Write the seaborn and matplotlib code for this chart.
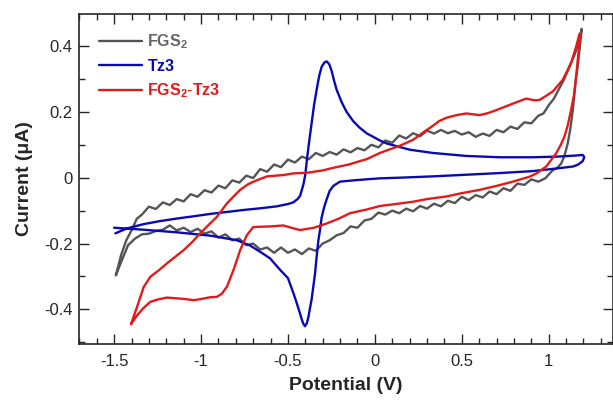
import matplotlib
matplotlib.use("Agg")
import matplotlib.pyplot as plt
from matplotlib.ticker import MultipleLocator
import seaborn as sns

# FGS2: anodic sweep (left end -> top right), then back along the cathodic branch
fgs_v = [-1.49, -1.46, -1.43, -1.40, -1.37, -1.34, -1.30, -1.26, -1.22, -1.18, -1.14, -1.10,
         -1.06, -1.02, -0.98, -0.94, -0.90, -0.86, -0.82, -0.78, -0.74, -0.70, -0.66, -0.62,
         -0.58, -0.54, -0.50, -0.46, -0.42, -0.38, -0.34, -0.30, -0.26, -0.22, -0.18, -0.14,
         -0.10, -0.06, -0.02, 0.02, 0.06, 0.10, 0.14, 0.18, 0.22, 0.26, 0.30, 0.34,
         0.38, 0.42, 0.46, 0.50, 0.54, 0.58, 0.62, 0.66, 0.70, 0.74, 0.78, 0.82,
         0.86, 0.90, 0.94, 0.97, 1.00, 1.03, 1.06, 1.09, 1.12, 1.15, 1.17, 1.19,
         1.188, 1.177, 1.165, 1.158, 1.145, 1.139, 1.125, 1.11, 1.09, 1.072, 1.05, 1.024,
         0.98, 0.94, 0.90, 0.86, 0.82, 0.78, 0.74, 0.70, 0.66, 0.62, 0.58, 0.54,
         0.50, 0.46, 0.42, 0.38, 0.34, 0.30, 0.26, 0.22, 0.18, 0.14, 0.10, 0.06,
         0.02, -0.02, -0.06, -0.10, -0.14, -0.18, -0.22, -0.26, -0.30, -0.34, -0.38, -0.42,
         -0.46, -0.50, -0.54, -0.58, -0.62, -0.66, -0.70, -0.74, -0.78, -0.82, -0.86, -0.90,
         -0.94, -0.98, -1.02, -1.06, -1.10, -1.14, -1.18, -1.22, -1.26, -1.30, -1.34, -1.38,
         -1.42, -1.455, -1.49]
fgs_i = [-0.296, -0.235, -0.19, -0.16, -0.125, -0.112, -0.088, -0.095, -0.075, -0.083, -0.065, -0.072,
         -0.05, -0.058, -0.038, -0.045, -0.024, -0.032, -0.008, -0.015, 0.006, -0.001, 0.026, 0.018,
         0.04, 0.032, 0.055, 0.046, 0.064, 0.056, 0.075, 0.066, 0.078, 0.07, 0.086, 0.077,
         0.09, 0.083, 0.1, 0.092, 0.113, 0.106, 0.128, 0.119, 0.135, 0.126, 0.143, 0.134,
         0.145, 0.135, 0.142, 0.131, 0.138, 0.124, 0.134, 0.127, 0.145, 0.138, 0.155, 0.148,
         0.168, 0.165, 0.188, 0.195, 0.22, 0.24, 0.27, 0.3, 0.338, 0.375, 0.405, 0.452,
         0.44, 0.388, 0.33, 0.307, 0.24, 0.206, 0.15, 0.105, 0.065, 0.043, 0.03, 0.023,
         -0.002, -0.012, -0.005, -0.022, -0.018, -0.04, -0.032, -0.05, -0.042, -0.06, -0.053, -0.068,
         -0.058, -0.077, -0.07, -0.087, -0.079, -0.094, -0.086, -0.102, -0.094, -0.108, -0.1, -0.112,
         -0.106, -0.125, -0.13, -0.152, -0.148, -0.168, -0.175, -0.19, -0.2, -0.222, -0.215, -0.232,
         -0.218, -0.228, -0.212, -0.228, -0.212, -0.218, -0.2, -0.205, -0.185, -0.19, -0.172, -0.182,
         -0.163, -0.17, -0.155, -0.165, -0.152, -0.16, -0.145, -0.158, -0.162, -0.17, -0.172, -0.185,
         -0.205, -0.25, -0.296]

# Tz3: anodic branch from -1.5 V, anodic peak, tail to 1.2 V, back, cathodic peak, tail to -1.5 V
tz_v = [-1.493, -1.426, -1.33, -1.238, -1.138, -1.04, -0.947, -0.85, -0.755, -0.66, -0.564, -0.50,
        -0.469, -0.445, -0.43, -0.411, -0.40, -0.392, -0.378, -0.364, -0.35, -0.335, -0.32, -0.306,
        -0.29, -0.277, -0.263, -0.249, -0.235, -0.22, -0.19, -0.163, -0.125, -0.088, -0.048, 0.029,
        0.067, 0.2, 0.335, 0.526, 0.718, 0.909, 1.05, 1.15, 1.196, 1.205, 1.195, 1.17,
        1.14, 1.062, 0.909, 0.718, 0.526, 0.335, 0.144, 0.029, -0.048, -0.12, -0.201, -0.239,
        -0.26, -0.277, -0.292, -0.306, -0.316, -0.325, -0.335, -0.344, -0.354, -0.364, -0.373, -0.383,
        -0.392, -0.402, -0.412, -0.421, -0.431, -0.45, -0.469, -0.5, -0.545, -0.603, -0.66, -0.718,
        -0.794, -0.947, -1.138, -1.33, -1.50]
tz_i = [-0.169, -0.154, -0.141, -0.132, -0.124, -0.117, -0.11, -0.104, -0.098, -0.093, -0.087, -0.08,
        -0.075, -0.065, -0.055, -0.02, 0.01, 0.05, 0.11, 0.165, 0.22, 0.267, 0.31, 0.337,
        0.35, 0.353, 0.345, 0.325, 0.295, 0.267, 0.228, 0.2, 0.172, 0.152, 0.135, 0.113,
        0.104, 0.085, 0.075, 0.066, 0.062, 0.062, 0.064, 0.067, 0.069, 0.062, 0.05, 0.04,
        0.034, 0.029, 0.02, 0.014, 0.009, 0.004, 0.0, -0.002, -0.005, -0.008, -0.012, -0.025,
        -0.04, -0.065, -0.09, -0.12, -0.16, -0.19, -0.24, -0.29, -0.33, -0.37, -0.395, -0.425,
        -0.443, -0.451, -0.443, -0.43, -0.412, -0.38, -0.35, -0.305, -0.28, -0.245, -0.225, -0.206,
        -0.19, -0.176, -0.166, -0.158, -0.152]

# FGS2-Tz3: anodic sweep from the lower-left end to the top, then the return branch
mix_v = [-1.403, -1.368, -1.33, -1.292, -1.24, -1.196, -1.1, -1.05, -1.005, -0.95, -0.909, -0.851,
         -0.80, -0.775, -0.73, -0.698, -0.66, -0.62, -0.526, -0.47, -0.39, -0.3, -0.239, -0.15,
         -0.088, -0.048, 0.029, 0.08, 0.144, 0.22, 0.28, 0.335, 0.37, 0.412, 0.47, 0.526,
         0.603, 0.65, 0.698, 0.794, 0.87, 0.92, 0.947, 0.99, 1.024, 1.081, 1.129, 1.158,
         1.173, 1.18, 1.175, 1.171, 1.158, 1.145, 1.129, 1.11, 1.091, 1.07, 1.043, 0.986,
         0.93, 0.89, 0.794, 0.7, 0.603, 0.5, 0.412, 0.3, 0.22, 0.12, 0.029, -0.05,
         -0.144, -0.21, -0.277, -0.35, -0.431, -0.48, -0.526, -0.6, -0.66, -0.70, -0.737, -0.775,
         -0.813, -0.851, -0.88, -0.909, -0.947, -1.005, -1.043, -1.1, -1.196, -1.25, -1.292, -1.33,
         -1.368, -1.403]
mix_i = [-0.445, -0.392, -0.332, -0.301, -0.28, -0.26, -0.22, -0.195, -0.169, -0.14, -0.119, -0.078,
         -0.05, -0.037, -0.02, -0.012, -0.004, 0.004, 0.008, 0.013, 0.015, 0.022, 0.03, 0.04,
         0.05, 0.056, 0.075, 0.085, 0.097, 0.115, 0.138, 0.158, 0.172, 0.182, 0.19, 0.195,
         0.19, 0.196, 0.205, 0.225, 0.24, 0.235, 0.236, 0.25, 0.262, 0.297, 0.348, 0.398,
         0.428, 0.438, 0.4, 0.378, 0.307, 0.25, 0.206, 0.16, 0.125, 0.1, 0.074, 0.034,
         0.013, 0.003, -0.012, -0.025, -0.037, -0.047, -0.057, -0.065, -0.073, -0.08, -0.086, -0.097,
         -0.108, -0.125, -0.139, -0.152, -0.159, -0.152, -0.145, -0.148, -0.149, -0.15, -0.175, -0.22,
         -0.28, -0.331, -0.352, -0.362, -0.363, -0.369, -0.372, -0.368, -0.364, -0.37, -0.377, -0.395,
         -0.418, -0.445]

sns.set_style("ticks")
plt.rcParams['font.family'] = ['Liberation Sans', 'DejaVu Sans']
plt.rcParams['mathtext.fontset'] = 'custom'
plt.rcParams['mathtext.bf'] = 'Liberation Sans:bold'
plt.rcParams['mathtext.rm'] = 'Liberation Sans'

fig = plt.figure(figsize=(6.13, 4.0), dpi=100)
ax = fig.add_axes([0.1295, 0.14, 0.8705, 0.825])

sns.lineplot(x=fgs_v, y=fgs_i, sort=False, estimator=None, color='#555555', lw=1.7, ax=ax,
             label=r'$\mathbf{FGS_2}$')
sns.lineplot(x=tz_v, y=tz_i, sort=False, estimator=None, color='#0a0ab4', lw=1.7, ax=ax,
             label=r'$\mathbf{Tz3}$')
sns.lineplot(x=mix_v, y=mix_i, sort=False, estimator=None, color='#e31a1a', lw=1.7, ax=ax,
             label=r'$\mathbf{FGS_2}$-$\mathbf{Tz3}$')

ax.set_xlim(-1.70, 1.37)
ax.set_ylim(-0.505, 0.497)
ax.xaxis.set_minor_locator(MultipleLocator(0.1))
ax.yaxis.set_minor_locator(MultipleLocator(0.1))
ax.set_xticks([-1.5, -1, -0.5, 0, 0.5, 1])
ax.set_xticklabels(['-1.5', '-1', '-0.5', '0', '0.5', '1'])
ax.set_yticks([-0.4, -0.2, 0, 0.2, 0.4])
ax.set_yticklabels(['-0.4', '-0.2', '0', '0.2', '0.4'])
ax.tick_params(which='both', direction='in', top=True, right=True, labelsize=12, width=1.0)
ax.tick_params(which='major', length=7)
ax.tick_params(which='minor', length=4)
ax.tick_params(axis='x', pad=7)
ax.tick_params(axis='y', pad=5)
for s in ax.spines.values():
    s.set_linewidth(1.2)

ax.set_xlabel('Potential (V)', fontsize=14, fontweight='bold', labelpad=6)
ax.set_ylabel('Current (μA)', fontsize=14, fontweight='bold', labelpad=8)

leg = ax.legend(loc='upper left', bbox_to_anchor=(0.037, 0.945), frameon=False, fontsize=11.5,
                handlelength=2.7, handletextpad=0.3, labelspacing=0.45, borderpad=0,
                borderaxespad=0)
for txt, line in zip(leg.get_texts(), leg.get_lines()):
    txt.set_color(line.get_color())
leg.get_texts()[0].set_color('#666666')

fig.savefig('out.png', dpi=100)
